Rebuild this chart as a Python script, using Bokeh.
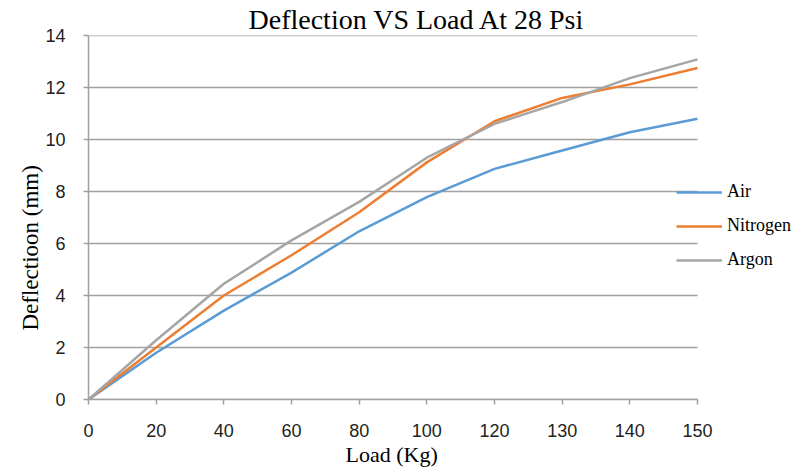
from bokeh.plotting import figure
from bokeh.models import Range1d, FixedTicker, Legend, LegendItem, Title
from bokeh.embed import file_html
from bokeh.resources import INLINE

loads = ["0", "20", "40", "60", "80", "100", "120", "130", "140", "150"]
air = [0, 1.8, 3.42, 4.88, 6.47, 7.78, 8.87, 9.58, 10.28, 10.8]
nitrogen = [0, 2.0, 4.0, 5.55, 7.2, 9.12, 10.7, 11.6, 12.12, 12.75]
argon = [0, 2.28, 4.45, 6.12, 7.6, 9.3, 10.6, 11.44, 12.36, 13.08]
y_ticks = [0, 2, 4, 6, 8, 10, 12, 14]

xpos = list(range(len(loads)))
last = len(loads) - 1
# frame extends to the right edge so the legend can overlap the plot's end
x_end = last * (791 - 88) / (697 - 88)

p = figure(width=791, height=470, output_backend="svg", toolbar_location=None,
           x_range=Range1d(0, x_end), y_range=Range1d(0, 14),
           min_border_left=88, min_border_right=0, min_border_top=35, min_border_bottom=71)
p.outline_line_color = None
p.background_fill_color = "white"
p.border_fill_color = "white"

title = Title(text="Deflection VS Load At 28 Psi", align="left", offset=160,
              text_font="Liberation Serif", text_font_size="28px",
              text_font_style="normal", text_color="#000000", standoff=2)
p.add_layout(title, "above")

p.xaxis.ticker = FixedTicker(ticks=xpos)
p.xaxis.major_label_overrides = {i: s for i, s in enumerate(loads)}
p.xaxis.bounds = (0, last)
p.yaxis.ticker = FixedTicker(ticks=y_ticks)
p.xaxis.minor_tick_line_color = None
p.yaxis.minor_tick_line_color = None
for ax in (p.xaxis, p.yaxis):
    ax.axis_line_color = "#a0a0a0"
    ax.axis_line_width = 1.5
    ax.major_tick_line_color = "#a0a0a0"
    ax.major_tick_line_width = 1.5
    ax.major_tick_in = 0
    ax.major_tick_out = 5
    ax.major_label_text_font = "Liberation Sans"
    ax.major_label_text_font_size = "18px"
    ax.major_label_text_color = "#222222"
p.xaxis.major_label_standoff = 19
p.yaxis.major_label_standoff = 18

ylab = Title(text="Deflectioon (mm)", align="left", offset=69,
             text_font="Liberation Serif", text_font_size="23px",
             text_font_style="normal", text_color="#000000", standoff=0)
p.add_layout(ylab, "left")

xlab = Title(text="Load (Kg)", align="left", offset=257,
             text_font="Liberation Serif", text_font_size="22px",
             text_font_style="normal", text_color="#000000", standoff=0)
p.add_layout(xlab, "below")

p.xgrid.grid_line_color = None
p.ygrid.grid_line_color = None
n = len(y_ticks)
p.segment(x0=[0] * n, y0=y_ticks, x1=[last] * n, y1=y_ticks,
          line_color="#a0a0a0", line_width=1.5)

r_air = p.line(xpos, air, line_color="#5B9BD5", line_width=2.5)
r_n = p.line(xpos, nitrogen, line_color="#ED7D31", line_width=2.5)
r_ar = p.line(xpos, argon, line_color="#A5A5A5", line_width=2.5)

legend = Legend(items=[LegendItem(label="Air", renderers=[r_air]),
                       LegendItem(label="Nitrogen", renderers=[r_n]),
                       LegendItem(label="Argon", renderers=[r_ar])],
                location=(588, 129), orientation="vertical",
                background_fill_alpha=0, border_line_alpha=0,
                padding=0, margin=0, spacing=13,
                glyph_width=46, glyph_height=20, label_height=20,
                label_standoff=5,
                label_text_font="Liberation Serif", label_text_font_size="18px",
                label_text_color="#000000")
p.add_layout(legend, "center")

open("out.html", "w").write(file_html(p, INLINE))
